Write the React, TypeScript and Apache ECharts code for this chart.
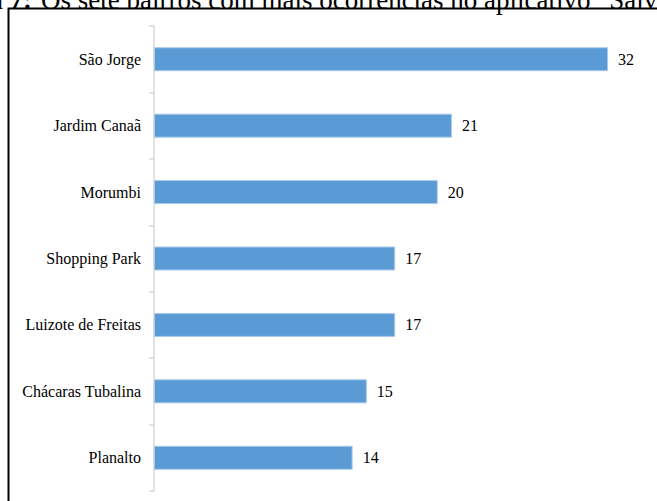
import React, { useEffect, useRef } from "react";
import * as echarts from "echarts";

const categories = [
  "São Jorge",
  "Jardim Canaã",
  "Morumbi",
  "Shopping Park",
  "Luizote de Freitas",
  "Chácaras Tubalina",
  "Planalto",
];
const values = [32, 21, 20, 17, 17, 15, 14];
const titleBold = "Figura 7:";
const titleRest = "Os sete bairros com mais ocorrências no aplicativo \u201CSalve Uberlândia\u201D";

export default function App() {
  const ref = useRef<HTMLDivElement>(null);
  useEffect(() => {
    if (!ref.current) return;
    const chart = echarts.init(ref.current, undefined, { renderer: "svg" });
    const font = "'Liberation Serif', 'Times New Roman', serif";
    chart.setOption({
      animation: false,
      backgroundColor: "#ffffff",
      grid: { left: 154, top: 26, width: 454, height: 465, containLabel: false },
      xAxis: {
        type: "value",
        min: 0,
        max: 32,
        show: false,
      },
      yAxis: {
        type: "category",
        data: categories,
        inverse: true,
        axisLine: { show: true, lineStyle: { color: "#d9d9d9", width: 1.5 } },
        axisTick: { show: true, length: 5, lineStyle: { color: "#d9d9d9", width: 1.5 } },
        axisLabel: { margin: 13, fontFamily: font, fontSize: 16, color: "#000" },
        splitLine: { show: false },
      },
      series: [
        {
          type: "bar",
          data: values,
          barWidth: 24,
          itemStyle: { color: "#5b9bd5", borderColor: "#a9c9ea", borderWidth: 1 },
          label: {
            show: true,
            position: "right",
            distance: 10,
            fontFamily: font,
            fontSize: 16,
            color: "#000",
          },
        },
      ],
      graphic: [
        {
          type: "rect",
          shape: { x: 8.5, y: 8.5, width: 700, height: 600 },
          style: { fill: "none", stroke: "#000", lineWidth: 2 },
          silent: true,
        },
        {
          type: "text",
          x: 32,
          y: 13,
          style: {
            text: titleBold,
            fontFamily: font,
            fontSize: 27,
            fontWeight: "bold",
            fill: "#000",
            textAlign: "right",
            textVerticalAlign: "bottom",
          },
        },
        {
          type: "text",
          x: 41,
          y: 13,
          style: {
            text: titleRest,
            fontFamily: font,
            fontSize: 27,
            fill: "#000",
            textAlign: "left",
            textVerticalAlign: "bottom",
          },
        },
      ],
    });
    return () => chart.dispose();
  }, []);
  return (
    <div
      ref={ref}
      style={{ position: "fixed", left: 0, top: 0, width: 657, height: 501 }}
    />
  );
}
